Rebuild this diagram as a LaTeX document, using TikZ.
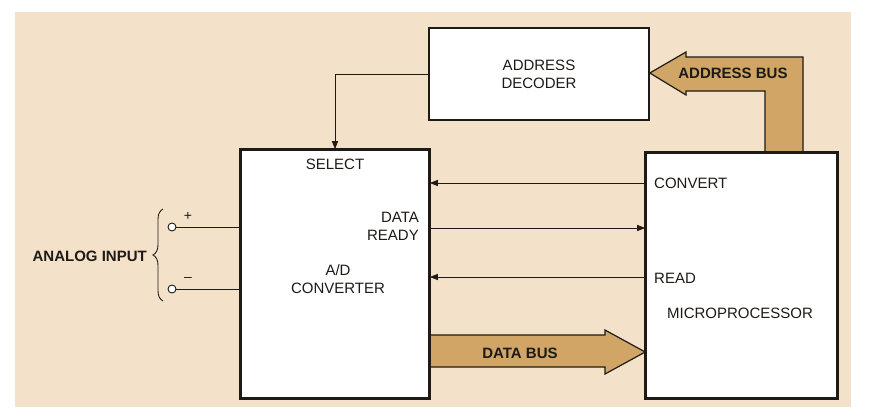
\documentclass[tikz,border=0pt]{standalone}
\usepackage{fontspec}
\setmainfont{Liberation Sans}
\usepackage{tikz}
\usetikzlibrary{arrows.meta, positioning, calc, decorations.pathreplacing}
\definecolor{paperBg}{HTML}{F3E2C9}
\definecolor{busTan}{HTML}{D0A566}
\definecolor{inkBlack}{HTML}{1E1A16}

\begin{document}
\begin{tikzpicture}[x=1pt, y=-1pt,
    blockbox/.style={rectangle, draw=inkBlack, line width=1.6pt, fill=white, inner sep=0pt},
    lbl/.style={font=\fontsize{15}{18}\selectfont, text=inkBlack, inner sep=0pt},
    buslbl/.style={font=\bfseries\fontsize{15}{18}\selectfont, text=inkBlack, inner sep=0pt},
    terminal/.style={circle, draw=inkBlack, line width=0.9pt, fill=white, minimum size=8pt, inner sep=0pt},
    wire/.style={line width=0.9pt, draw=inkBlack},
    arrow/.style={-{Triangle[length=8pt,width=6pt]}, line width=0.9pt, draw=inkBlack},
    bus/.style={fill=busTan, draw=inkBlack, line width=1.2pt, line join=miter}
]

\useasboundingbox (0,0) rectangle (872,407);
\fill[white] (0,0) rectangle (872,407);
\fill[paperBg] (15,12) rectangle (851,407);

% Blocks
\node[blockbox, lbl, align=center, minimum width=220pt, minimum height=92pt] (dec) at (539,74) {ADDRESS\\DECODER};
\node[blockbox, minimum width=188pt, minimum height=248pt] (adc) at (335,274) {};
\node[blockbox, minimum width=191pt, minimum height=245pt] (mpu) at (741.5,275.5) {};

% Buses
\draw[bus] (dec.east |- 0,73) -- (686,52) -- (686,57) -- (803,57) -- (803,0 |- mpu.north)
    -- (765,0 |- mpu.north) -- (765,91) -- (686,91) -- (686,95) -- cycle;
\node[buslbl] (abus) at (733,73) {ADDRESS BUS};

\draw[bus] (adc.east |- 0,335) -- (605,335) -- (605,330) -- (mpu.west |- 0,352)
    -- (605,374) -- (605,367) -- (adc.east |- 0,367) -- cycle;
\node[buslbl] (dbus) at (520,353) {DATA BUS};

% Redraw block borders over bus ends
\draw[inkBlack, line width=1.6pt] (adc.north west) rectangle (adc.south east);
\draw[inkBlack, line width=1.6pt] (mpu.north west) rectangle (mpu.south east);

% A/D converter labels
\node[lbl, below=10pt of adc.north] (sel) {SELECT};
\node[lbl, align=right, anchor=east] (drdy) at (419,226) {DATA\\READY};
\node[lbl, align=center] (adname) at (338,279) {A/D\\CONVERTER};

% Microprocessor labels
\node[lbl, anchor=west] (conv) at (654,183) {CONVERT};
\node[lbl, anchor=west] (rd) at (654,278) {READ};
\node[lbl] (mpname) at (740,313) {MICROPROCESSOR};

% Control lines
\draw[arrow] (dec.west) -| (adc.north);
\draw[arrow] (mpu.west |- 0,183) -- (adc.east |- 0,183);
\draw[arrow] (adc.east |- 0,228) -- (mpu.west |- 0,228);
\draw[arrow] (mpu.west |- 0,277) -- (adc.east |- 0,277);

% Analog input
\node[terminal] (inp) at (172,227) {};
\node[terminal] (inn) at (172,289) {};
\draw[wire] (inp) -- (adc.west |- inp);
\draw[wire] (inn) -- (adc.west |- inn);
\node[lbl, font=\fontsize{14}{14}\selectfont] (plus) at (188,216) {+};
\node[lbl, font=\fontsize{14}{14}\selectfont] (minus) at (188,279) {–};
\draw[wire, decorate, decoration={brace, amplitude=10pt}] (163,301) -- (163,209);
\node[buslbl, anchor=east] (ain) at (147,256) {ANALOG INPUT};

\end{tikzpicture}
\end{document}
